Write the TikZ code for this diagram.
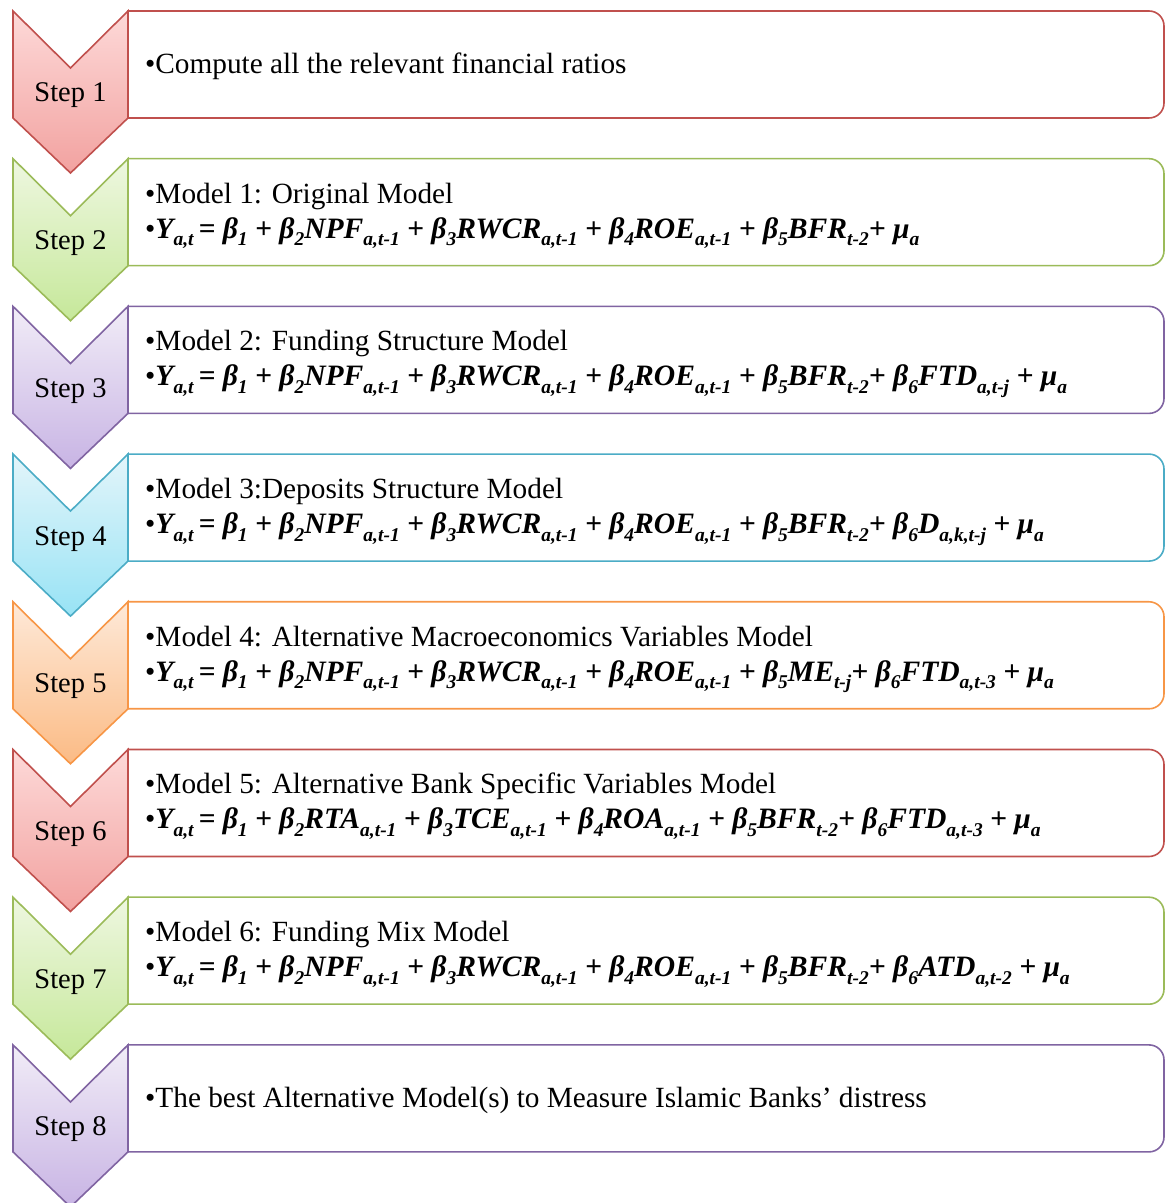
\documentclass[tikz,border=0pt]{standalone}
\usepackage{fontspec}
\setmainfont{Liberation Serif}
\usetikzlibrary{calc}

% colour sets: edge, light top, deeper bottom
\definecolor{rdE}{HTML}{C0504D}\definecolor{rdT}{HTML}{FDD9D8}\definecolor{rdB}{HTML}{F2A2A0}
\definecolor{grE}{HTML}{9BBB59}\definecolor{grT}{HTML}{EEF7E0}\definecolor{grB}{HTML}{C6E89A}
\definecolor{puE}{HTML}{8064A2}\definecolor{puT}{HTML}{F1ECF7}\definecolor{puB}{HTML}{C8B4E4}
\definecolor{blE}{HTML}{4BACC6}\definecolor{blT}{HTML}{E3F5FA}\definecolor{blB}{HTML}{98E3F5}
\definecolor{orE}{HTML}{F79646}\definecolor{orT}{HTML}{FEE9D8}\definecolor{orB}{HTML}{FBBB85}

% lowered subscript in the running (bold italic) font
\newcommand\lo[1]{\raisebox{-7.5pt}{\fontsize{19.5}{19.5}\selectfont #1}}
\newcommand\eqline[1]{\textbullet{\fontsize{29.6}{35}\selectfont\bfseries\itshape #1}}
\newcommand\head{Y\lo{a,t}\,= β\lo{1} + β\lo{2}NPF\lo{a,t-1} + β\lo{3}RWCR\lo{a,t-1} + β\lo{4}ROE\lo{a,t-1} }

\tikzset{
  txt/.style={anchor=base west, inner sep=0pt, font=\fontsize{29.3}{35}\selectfont},
  steplabel/.style={anchor=base, inner sep=0pt, font=\fontsize{28.5}{34}\selectfont},
  panel/.style={line width=1.6pt, fill=white},
  chev/.style={line width=1.6pt},
}

\begin{document}
\begin{tikzpicture}[x=1pt,y=1pt]
\useasboundingbox (0,0) rectangle (1165,1203);

% panels and chevrons, top to bottom
\foreach \i/\c in {1/rd,2/gr,3/pu,4/bl,5/or,6/rd,7/gr,8/pu}{
  \pgfmathsetmacro\T{1203-11-147.7*(\i-1)}
  \pgfmathsetmacro\B{\T-107}
  \draw[panel, draw=\c E] (128,\T) -- (1149,\T)
     arc[start angle=90, end angle=0, radius=15] -- (1164,\B+15)
     arc[start angle=0, end angle=-90, radius=15] -- (128,\B) -- cycle;
  \draw[chev, draw=\c E, top color=\c T, bottom color=\c B]
     (13,\T) -- (70.5,\T-57) -- (128,\T) -- (128,\B) -- (70.5,\T-162) -- (13,\B) -- cycle;
  \node[steplabel] (s\i) at (70.5,\T-91) {Step \i};
}

% panel texts
\node[txt] (t1) at (145,1203-11-63) {\textbullet Compute all the relevant financial ratios};

\node[txt] (t2a) at (145,1203-158.7-44.5) {\textbullet Model 1: Original Model};
\node[txt] (t2b) at (145,1203-158.7-79.5) {\eqline{\head+ β\lo{5}BFR\lo{t-2}+ μ\lo{a}}};

\node[txt] (t3a) at (145,1203-306.4-44.5) {\textbullet Model 2: Funding Structure Model};
\node[txt] (t3b) at (145,1203-306.4-79.5) {\eqline{\head+ β\lo{5}BFR\lo{t-2}+ β\lo{6}FTD\lo{a,t-j} + μ\lo{a}}};

\node[txt] (t4a) at (145,1203-454.1-44.5) {\textbullet Model 3:Deposits Structure Model};
\node[txt] (t4b) at (145,1203-454.1-79.5) {\eqline{\head+ β\lo{5}BFR\lo{t-2}+ β\lo{6}D\lo{a,k,t-j} + μ\lo{a}}};

\node[txt] (t5a) at (145,1203-601.8-44.5) {\textbullet Model 4: Alternative Macroeconomics Variables Model};
\node[txt] (t5b) at (145,1203-601.8-79.5) {\eqline{\head+ β\lo{5}ME\lo{t-j}+ β\lo{6}FTD\lo{a,t-3} + μ\lo{a}}};

\node[txt] (t6a) at (145,1203-749.5-44.5) {\textbullet Model 5: Alternative Bank Specific Variables Model};
\node[txt] (t6b) at (145,1203-749.5-79.5) {\eqline{Y\lo{a,t}\,= β\lo{1} + β\lo{2}RTA\lo{a,t-1} + β\lo{3}TCE\lo{a,t-1} + β\lo{4}ROA\lo{a,t-1} + β\lo{5}BFR\lo{t-2}+ β\lo{6}FTD\lo{a,t-3} + μ\lo{a}}};

\node[txt] (t7a) at (145,1203-897.2-44.5) {\textbullet Model 6: Funding Mix Model};
\node[txt] (t7b) at (145,1203-897.2-79.5) {\eqline{\head+ β\lo{5}BFR\lo{t-2}+ β\lo{6}ATD\lo{a,t-2} + μ\lo{a}}};

\node[txt] (t8) at (145,1203-1044.9-63) {\textbullet The best Alternative Model(s) to Measure Islamic Banks' distress};
\end{tikzpicture}
\end{document}
